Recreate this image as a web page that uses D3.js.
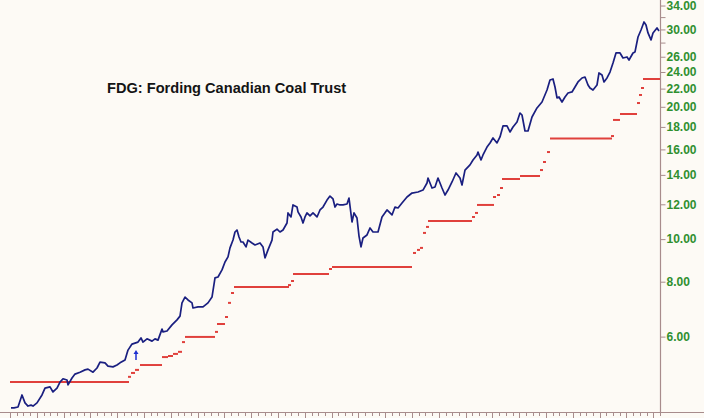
<!DOCTYPE html>
<html><head><meta charset="utf-8">
<script src="https://cdn.jsdelivr.net/npm/d3@7"></script>
<style>html,body{margin:0;padding:0;background:#fdfaf5;} svg{display:block}</style>
</head><body>
<svg id="c" width="704" height="418"></svg>
<script>
const title = "FDG: Fording Canadian Coal Trust";

// closing price (day index, value)
const priceDay = [1,4,8,12,15,18,21,23,27,32,35,40,43,47,50,53,57,58,62,65,70,75,78,83,87,90,95,98,103,107,110,115,118,122,125,128,131,133,137,142,145,148,152,153,157,162,167,170,172,175,178,182,183,188,193,198,202,205,208,212,215,218,220,223,225,227,229,231,233,236,238,242,245,250,253,255,258,262,263,267,270,273,277,278,281,283,287,288,291,293,295,297,300,303,307,310,313,317,320,323,325,327,330,333,337,339,342,344,347,349,351,353,357,360,363,368,372,377,382,385,388,392,397,402,408,413,417,418,422,425,428,432,435,438,442,446,450,452,455,460,463,467,468,471,473,477,480,483,487,490,493,497,500,503,507,510,512,515,518,522,527,532,537,540,543,545,547,549,552,555,558,562,565,568,572,575,578,580,583,587,589,592,594,597,600,603,606,610,613,617,619,623,625,628,631,634,636,638,641,643,647,649];
const priceVal = [4.13,4.13,4.15,4.42,4.24,4.17,4.19,4.17,4.24,4.42,4.58,4.61,4.49,4.58,4.73,4.81,4.78,4.66,4.83,4.93,4.98,5.04,5.06,4.98,5.09,5.25,5.23,5.14,5.12,5.17,5.23,5.31,5.59,5.77,5.80,5.83,5.96,5.83,5.93,5.86,5.93,5.89,6.24,6.15,6.18,6.38,6.55,6.68,7.16,7.38,7.27,7.16,6.97,7.01,7.01,7.16,7.38,8.16,8.20,8.51,8.87,9.11,9.55,9.95,10.38,10.49,10.11,9.85,9.85,9.60,9.95,9.80,9.70,9.80,9.60,9.06,9.45,9.95,10.38,10.54,10.38,10.49,10.88,11.47,11.23,11.96,11.83,11.53,11.23,10.88,11.23,11.47,11.29,11.47,11.23,11.65,11.83,12.27,12.53,12.34,11.83,12.02,11.96,11.96,12.02,12.40,10.94,11.47,11.17,10.16,9.60,10.06,10.22,10.60,10.38,10.38,11.23,11.65,11.35,11.83,11.77,12.08,12.47,12.73,12.80,12.93,13.42,13.77,13.07,13.14,13.77,13.07,12.60,12.93,13.49,14.14,13.77,13.28,14.36,14.75,15.14,15.54,15.78,15.14,15.54,16.20,16.55,16.99,16.55,17.08,18.09,18.09,17.53,17.99,18.47,19.36,19.16,17.62,17.62,18.96,19.88,20.51,21.84,23.02,23.14,22.19,20.95,21.06,20.51,21.06,21.50,21.62,22.19,22.78,23.26,23.38,22.42,22.07,21.84,22.42,23.88,23.63,22.78,23.26,24.00,25.16,26.52,26.52,25.83,25.97,25.56,26.52,26.66,28.83,29.91,31.19,30.71,29.45,28.39,29.45,30.23,29.76];

// trailing stop levels (start day, end day, value)
const stopStart = [0,118,121,125,130,152,158,163,168,172,175,205,207,215,218,221,224,278,281,283,319,322,403,407,410,413,416,418,462,465,467,483,487,490,492,510,530,533,537,540,601,603,610,627,629,631,633];
const stopEnd   = [117,119,123,127,150,156,161,166,170,173,203,206,213,216,219,222,277,279,282,317,320,400,404,408,411,414,417,460,463,466,482,484,488,491,508,528,531,534,538,600,602,608,625,628,630,632,648];
const stopVal   = [4.73,4.86,4.96,5.04,5.17,5.39,5.42,5.48,5.54,5.83,5.99,6.15,6.41,6.65,7.16,7.54,7.78,7.86,8.03,8.33,8.55,8.64,9.30,9.45,9.55,10.33,10.66,11.00,11.23,11.47,11.96,12.47,12.60,13.07,13.70,13.92,14.36,14.98,15.78,16.95,17.16,18.67,19.26,20.40,21.28,22.07,23.14];

// buy signal arrow
const signalDay = [126];
const signalVal = [5.42];

const yTicks = [6,8,10,12,14,16,18,20,22,24,26,28,30,32,34];
const yLabeled = [6,8,10,12,14,16,18,20,22,24,26,30,34];

const svg = d3.select("#c");
const W = 704, H = 418;
svg.append("rect").attr("width", W).attr("height", H).attr("fill", "#fdfaf5");

const x = d3.scaleLinear().domain([0, 650]).range([10, 660]);
const y = d3.scaleLog().domain([4, 35]).range([414, 0]);

const axisColor = "#a88c8c";

// bottom axis line + ticks
svg.append("line").attr("x1", 0).attr("x2", W).attr("y1", 412.5).attr("y2", 412.5)
  .attr("stroke", axisColor).attr("stroke-width", 1);
const xTickDays = d3.range(0, 650, 6.7);
svg.append("g").selectAll("line").data(xTickDays).join("line")
  .attr("x1", d => Math.round(x(d)) + 0.5).attr("x2", d => Math.round(x(d)) + 0.5)
  .attr("y1", 413).attr("y2", (d, i) => i % 4 === 0 ? 418 : 416)
  .attr("stroke", axisColor).attr("stroke-width", 1);

// right axis
svg.append("line").attr("x1", 660.5).attr("x2", 660.5).attr("y1", 0).attr("y2", 413)
  .attr("stroke", axisColor).attr("stroke-width", 1.2);
const yAxis = d3.axisRight(y).tickValues(yTicks).tickSize(5).tickPadding(1)
  .tickFormat(d => yLabeled.includes(d) ? d.toFixed(2) : "");
const ga = svg.append("g").attr("transform", "translate(660.5,0)").call(yAxis);
ga.select(".domain").remove();
ga.selectAll(".tick line").attr("stroke", axisColor);
ga.selectAll(".tick text").attr("fill", "#2f8f2f")
  .style("font-family", "'Liberation Sans', Arial, sans-serif")
  .style("font-weight", "bold").style("font-size", "12px");

// stop line
const stops = stopStart.map((s, i) => ({s, e: stopEnd[i], v: stopVal[i]}));
svg.append("g").selectAll("line").data(stops).join("line")
  .attr("x1", d => x(d.s)).attr("x2", d => x(d.e) + 2)
  .attr("y1", d => y(d.v)).attr("y2", d => y(d.v))
  .attr("stroke", "#e0403c").attr("stroke-width", 2);

// price line
const pts = priceDay.map((d, i) => [d, priceVal[i]]);
svg.append("path").datum(pts)
  .attr("d", d3.line().x(d => x(d[0])).y(d => y(d[1])))
  .attr("fill", "none").attr("stroke", "#1a1f80").attr("stroke-width", 1.7)
  .attr("stroke-linejoin", "round");

// signal arrow
signalDay.forEach((d, i) => {
  const ax = x(d), ay = y(signalVal[i]);
  const g = svg.append("g").attr("fill", "#1d2fd0").attr("stroke", "#1d2fd0");
  g.append("line").attr("x1", ax).attr("x2", ax).attr("y1", ay - 4).attr("y2", ay + 4).attr("stroke-width", 1.5);
  g.append("path").attr("d", `M${ax - 2.5},${ay - 2} L${ax},${ay - 6} L${ax + 2.5},${ay - 2} Z`).attr("stroke", "none");
});

// title
svg.append("text").attr("x", 107).attr("y", 93).text(title)
  .attr("fill", "#141414")
  .style("font-family", "'Liberation Sans', Arial, sans-serif")
  .style("font-weight", "bold").style("font-size", "14.6px");
</script>
</body></html>
